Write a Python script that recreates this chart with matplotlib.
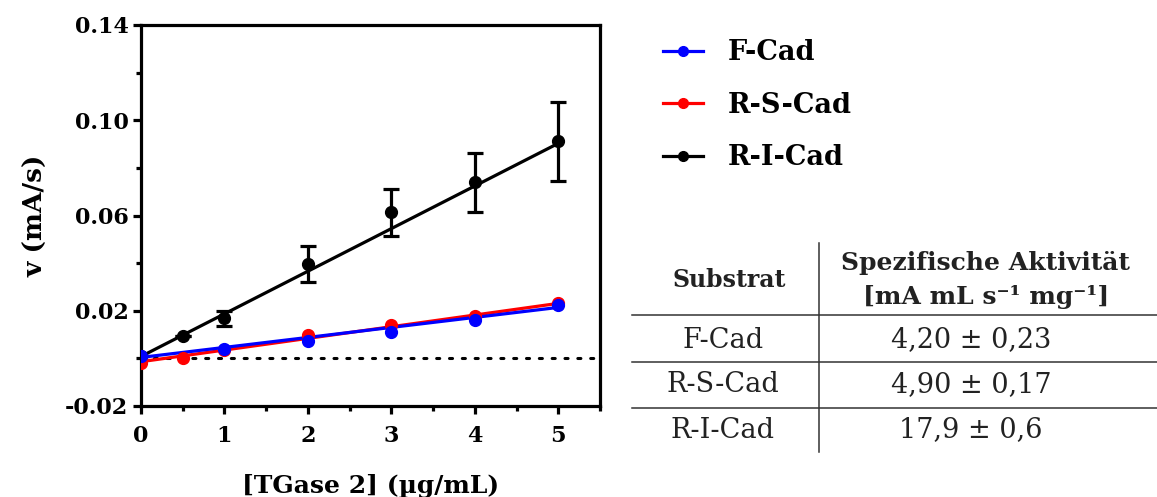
import matplotlib
matplotlib.use("Agg")
import matplotlib.pyplot as plt
from matplotlib.lines import Line2D
import numpy as np

SERIF = ["DejaVu Serif"]
plt.rcParams["font.family"] = SERIF

# Measured rates v (mA/s) against enzyme concentration
substrates = ["F-Cad", "R-S-Cad", "R-I-Cad"]
colors = ["#0000ff", "#ff0000", "#000000"]

x_fcad = [0, 1, 2, 3, 4, 5]
y_fcad = [0.0008, 0.0039, 0.0073, 0.0112, 0.0162, 0.0223]

x_rscad = [0, 0.5, 1, 2, 3, 4, 5]
y_rscad = [-0.0021, 0.0003, 0.0036, 0.0099, 0.0139, 0.0176, 0.0232]

x_ricad = [0, 0.5, 1, 2, 3, 4, 5]
y_ricad = [0.0008, 0.0092, 0.0168, 0.0395, 0.0613, 0.0739, 0.0911]
err_ricad = [0.0, 0.0, 0.0030, 0.0075, 0.0097, 0.0124, 0.0166]

# Specific activities (slope of the linear fit, mA mL s^-1 mg^-1)
activity = [4.20, 4.90, 17.9]
activity_sd = ["0,23", "0,17", "0,6"]
activity_txt = ["4,20", "4,90", "17,9"]
intercepts = [0.0004, -0.0014, 0.0008]

fig = plt.figure(figsize=(11.57, 4.97), dpi=100)
ax = fig.add_axes([141 / 1157, 1 - 406 / 497, (600 - 141) / 1157, (406 - 25) / 497])

lw = 2.3
xs_all = [x_fcad, x_rscad, x_ricad]
ys_all = [y_fcad, y_rscad, y_ricad]

ax.axhline(0, color="black", lw=2.2, linestyle=(0, (1, 3.2)), dash_capstyle="round", zorder=1)

# draw black first, blue on top
for i in [2, 1, 0]:
    xs = np.array(xs_all[i], dtype=float)
    ys = np.array(ys_all[i], dtype=float)
    slope = activity[i] / 1000.0  # per µg/mL
    xf = np.array([0.0, 5.0])
    ax.plot(xf, intercepts[i] + slope * xf, color=colors[i], lw=lw, zorder=3)
    if i == 2:
        ax.errorbar(xs, ys, yerr=err_ricad, fmt="none", ecolor="black",
                    elinewidth=2.3, capsize=6, capthick=2.3, zorder=3)
    ax.plot(xs, ys, "o", color=colors[i], ms=8.5, zorder=4)

ax.set_xlim(0, 5.5)
ax.set_ylim(-0.02, 0.14)
ax.set_xticks([0, 1, 2, 3, 4, 5])
ax.set_xticks(np.arange(0.5, 5.51, 1.0), minor=True)
ax.set_yticks([-0.02, 0.02, 0.06, 0.10, 0.14])
ax.set_yticklabels(["-0.02", "0.02", "0.06", "0.10", "0.14"])
ax.set_yticks([0.0, 0.04, 0.08, 0.12], minor=True)

for s in ax.spines.values():
    s.set_linewidth(2.3)
ax.tick_params(which="major", direction="out", length=6, width=2.3, labelsize=16)
ax.tick_params(which="minor", direction="out", length=3.5, width=2.3)
ax.tick_params(axis="y", which="major", pad=3)
ax.tick_params(axis="x", which="major", pad=8)
for lab in ax.get_xticklabels() + ax.get_yticklabels():
    lab.set_fontweight("bold")

ax.set_ylabel("v (mA/s)", fontsize=19, fontweight="bold", labelpad=12)
ax.set_xlabel("[TGase 2] (µg/mL)", fontsize=18, fontweight="bold", labelpad=19)

# Legend
handles = [Line2D([0], [0], color=c, lw=lw, marker="o", ms=7) for c in colors]
fig.legend(handles, substrates, loc="upper left", bbox_to_anchor=(639 / 1157, 1 - 15 / 497),
           frameon=False, prop={"family": SERIF, "weight": "bold", "size": 19.5},
           handlelength=1.48, handletextpad=0.89, labelspacing=0.94)

# Table of specific activities
def fx(px):
    return px / 1157

def fy(py):
    return 1 - py / 497

tcol = "#333333"
fig.add_artist(Line2D([fx(819), fx(819)], [fy(243), fy(452)], color=tcol, lw=1.1))
for yy in [315, 362, 408]:
    fig.add_artist(Line2D([fx(632), fx(1157)], [fy(yy), fy(yy)], color=tcol, lw=1.1))

fig.text(fx(729), fy(280), "Substrat", ha="center", va="center", fontsize=17,
         fontweight="bold", color="#222222")
fig.text(fx(985), fy(263), "Spezifische Aktivität", ha="center", va="center", fontsize=18,
         fontweight="bold", color="#222222")
fig.text(fx(986), fy(297), "[mA mL s\u207b\u00b9 mg\u207b\u00b9]", ha="center", va="center",
         fontsize=18, fontweight="bold", color="#222222")

row_y = [340, 385, 430]
for name, val, sd, yy in zip(substrates, activity_txt, activity_sd, row_y):
    fig.text(fx(723), fy(yy), name, ha="center", va="center", fontsize=19.5, color="#222222")
    fig.text(fx(971), fy(yy), f"{val} ± {sd}", ha="center", va="center", fontsize=19.5,
             color="#222222")

fig.savefig("out.png", dpi=100)
